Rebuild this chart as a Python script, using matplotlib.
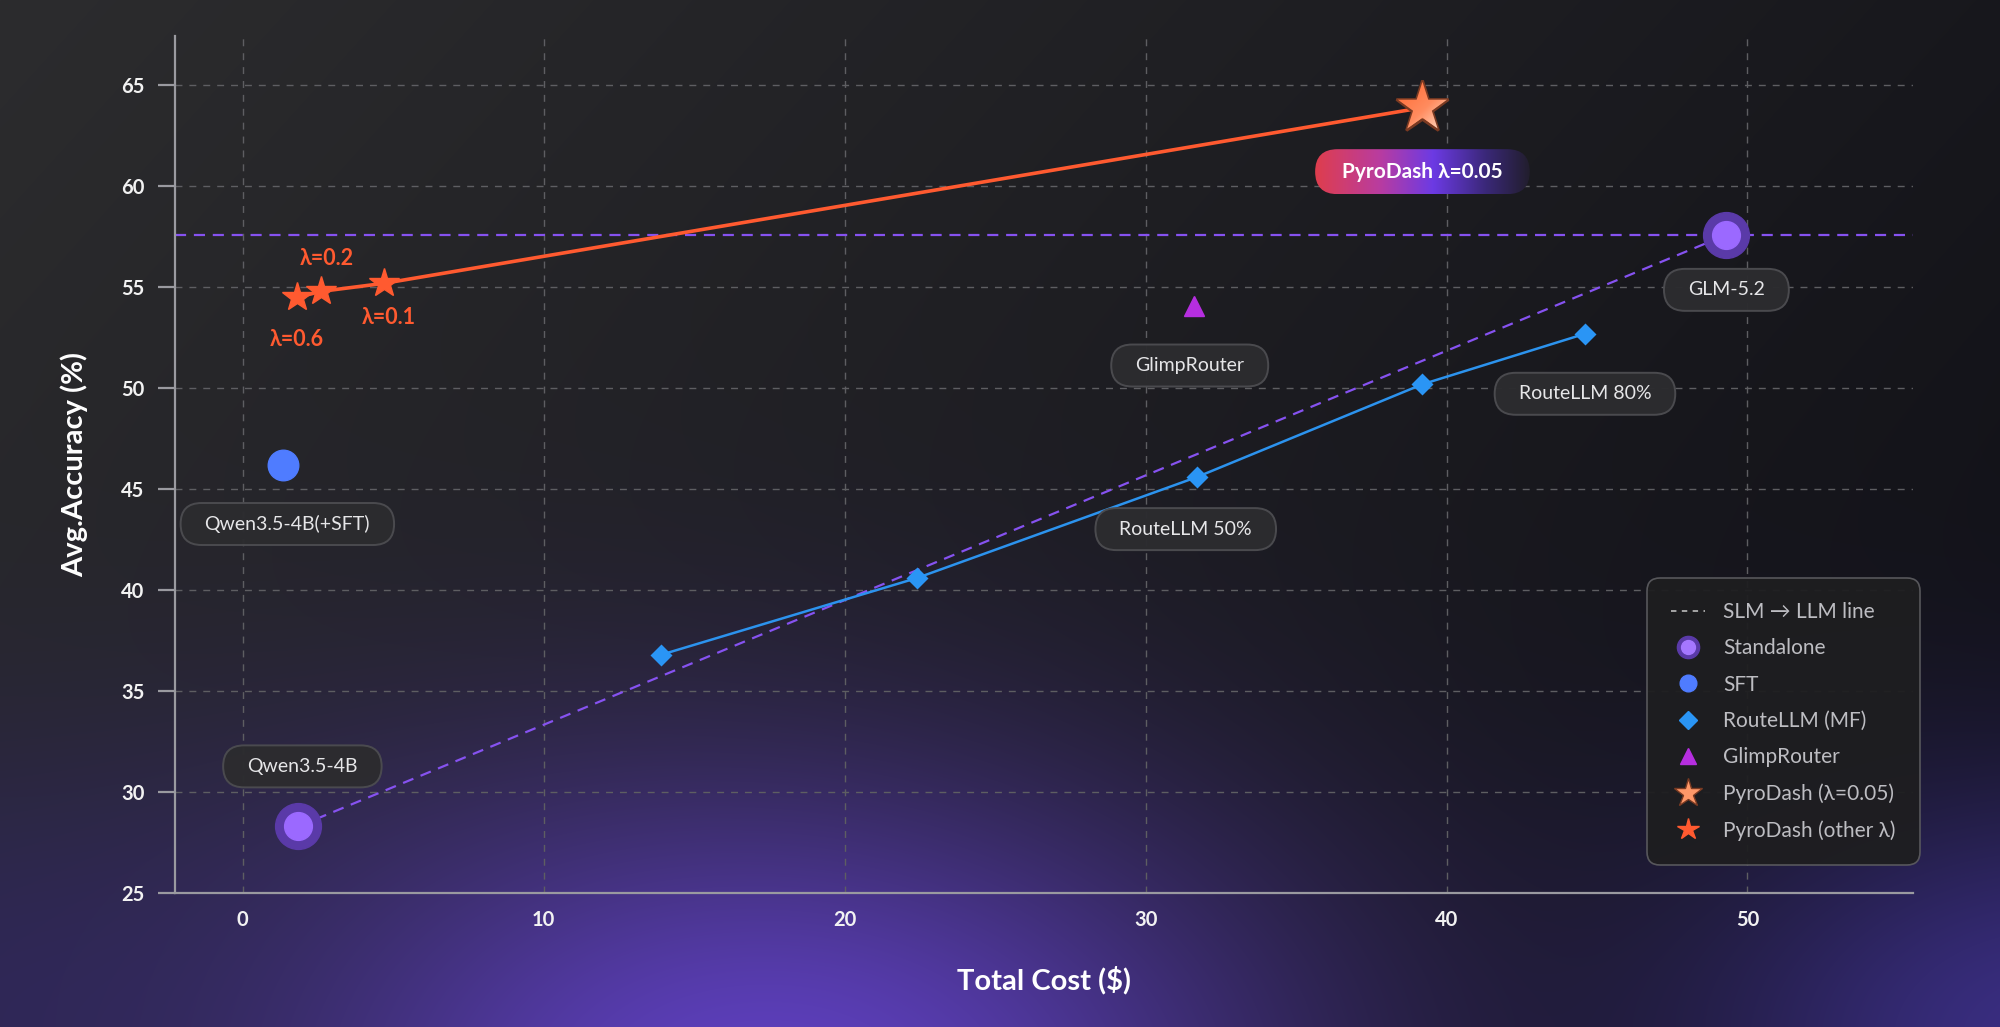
import numpy as np
import matplotlib
matplotlib.use('Agg')
import matplotlib.pyplot as plt
from matplotlib.patches import FancyBboxPatch, Circle, PathPatch
from matplotlib.lines import Line2D
from matplotlib.path import Path

plt.rcParams['font.family'] = ['Lato', 'DejaVu Sans']

# ---------------- data ----------------
slm_name, slm_cost, slm_acc = 'Qwen3.5-4B', 1.85, 28.3
llm_name, llm_cost, llm_acc = 'GLM-5.2', 49.3, 57.6
sft_name, sft_cost, sft_acc = 'Qwen3.5-4B(+SFT)', 1.35, 46.2
routellm_cost = [13.9, 22.4, 31.7, 39.2, 44.6]
routellm_acc = [36.8, 40.6, 45.6, 50.2, 52.7]
routellm_labels = {2: 'RouteLLM 50%', 4: 'RouteLLM 80%'}
glimp_name, glimp_cost, glimp_acc = 'GlimpRouter', 31.6, 54.1
pyro_main_name, pyro_main_cost, pyro_main_acc = 'PyroDash λ=0.05', 39.2, 63.9
pyro_lambdas = ['λ=0.6', 'λ=0.2', 'λ=0.1']
pyro_cost = [1.8, 2.6, 4.7]
pyro_acc = [54.5, 54.8, 55.2]
xticks = [0, 10, 20, 30, 40, 50]
yticks = [25, 30, 35, 40, 45, 50, 55, 60, 65]
xlabel = 'Total Cost ($)'
ylabel = 'Avg.Accuracy (%)'

W, H = 2000, 1027
DPI = 100
fig = plt.figure(figsize=(W / DPI, H / DPI), dpi=DPI)

# ---------------- background ----------------
ax_bg = fig.add_axes([0, 0, 1, 1], zorder=-10)
yy, xx = np.mgrid[0:H, 0:W].astype(float)
t = np.clip(0.75 * xx / W + 0.35 * yy / H, 0, 1)[..., None]
c_tl = np.array([44, 44, 46.0])
c_br = np.array([17, 17, 23.0])
img = c_tl * (1 - t) + c_br * t


def glow(img, cx, cy, rx, ry, col, a):
    g = np.exp(-(((xx - cx) / rx) ** 2 + ((yy - cy) / ry) ** 2))[..., None] * a
    return img * (1 - g) + np.array(col, float) * g


img = glow(img, 760, 1090, 560, 320, (98, 66, 200), 0.95)
img = glow(img, -60, 1010, 420, 260, (50, 40, 105), 0.6)
img = glow(img, 2060, 1040, 380, 260, (75, 58, 175), 0.7)
ax_bg.imshow(np.clip(img, 0, 255).astype(np.uint8), extent=[0, W, 0, H],
             origin='upper', aspect='auto', interpolation='bilinear')
ax_bg.set_axis_off()

# ---------------- main axes ----------------
ax = fig.add_axes([175 / W, (H - 893) / H, (1913 - 175) / W, (893 - 36) / H], zorder=1)
ax.set_facecolor('none')
ax.set_xlim(-2.25, 55.5)
ax.set_ylim(25, 67.45)
ax.set_xticks(xticks)
ax.set_yticks(yticks)
ax.grid(True, color='#5e5e62', linestyle=(0, (5, 5)), linewidth=1.0, zorder=0)
for s in ['top', 'right']:
    ax.spines[s].set_visible(False)
for s in ['left', 'bottom']:
    ax.spines[s].set_color('#9a9aa0')
    ax.spines[s].set_linewidth(1.6)
ax.tick_params(axis='y', length=12, width=1.6, color='#9a9aa0', pad=10,
               labelsize=14.5, labelcolor='#f2f2f2')
ax.tick_params(axis='x', length=0, pad=12, labelsize=14.5, labelcolor='#f2f2f2')
for lab in ax.get_xticklabels() + ax.get_yticklabels():
    lab.set_fontweight('bold')
ax.set_xlabel(xlabel, fontsize=21, fontweight='bold', color='#ffffff', labelpad=26)
ax.set_ylabel(ylabel, fontsize=21, fontweight='bold', color='#ffffff', labelpad=24)

purple = '#8652f0'
# SLM -> LLM reference lines
ax.plot([slm_cost, llm_cost], [slm_acc, llm_acc], color=purple, lw=1.6,
        linestyle=(0, (5, 3.5)), zorder=2)
ax.axhline(llm_acc, color=purple, lw=1.6, linestyle=(0, (5, 3.5)), zorder=2)

# RouteLLM
ax.plot(routellm_cost, routellm_acc, color='#2c93ee', lw=1.8, zorder=3,
        marker='D', markersize=11, markerfacecolor='#2a95f5', markeredgecolor='none')
# Glimp
ax.plot([glimp_cost], [glimp_acc], marker='^', markersize=15, color='#b62ee0',
        linestyle='none', zorder=4)
# SFT
ax.plot([sft_cost], [sft_acc], marker='o', markersize=22, color='#4f7cff',
        linestyle='none', zorder=4)
# Standalone
std_x = [slm_cost, llm_cost]
std_y = [slm_acc, llm_acc]
ax.plot(std_x, std_y, marker='o', markersize=33, color='#5a3aa8', linestyle='none', zorder=4)
ax.plot(std_x, std_y, marker='o', markersize=20, color='#9b69ff', linestyle='none', zorder=5)

# PyroDash
orange = '#ff5a30'
ax.plot(pyro_cost + [pyro_main_cost], pyro_acc + [pyro_main_acc], color=orange,
        lw=2.6, zorder=5)
ax.plot(pyro_cost, pyro_acc, marker='*', markersize=22, color=orange,
        linestyle='none', zorder=6)
ax.plot([pyro_main_cost], [pyro_main_acc], marker='*', markersize=40,
        markerfacecolor='#ff8a55', markeredgecolor='#7a3a22', markeredgewidth=2,
        linestyle='none', zorder=6)

# lambda labels
lam_off = {'λ=0.6': (0, -42), 'λ=0.2': (6, 33), 'λ=0.1': (5, -34)}
for lab, xc, yc in zip(pyro_lambdas, pyro_cost, pyro_acc):
    ox, oy = lam_off[lab]
    ax.annotate(lab, (xc, yc), xytext=(ox * 0.72, oy * 0.72), textcoords='offset points',
                ha='center', va='center', fontsize=15.5, fontweight='bold', color=orange,
                zorder=7)

# legend
leg_handles = [
    Line2D([], [], color='#b0b0b0', lw=1.3, linestyle=(0, (3, 3))),
    (Line2D([], [], marker='o', markersize=16, color='#5a3aa8', linestyle='none'),
     Line2D([], [], marker='o', markersize=10, color='#a577ff', linestyle='none')),
    Line2D([], [], marker='o', markersize=12, color='#4f7cff', linestyle='none'),
    Line2D([], [], marker='D', markersize=9, color='#2a95f5', linestyle='none'),
    Line2D([], [], marker='^', markersize=12, color='#b62ee0', linestyle='none'),
    Line2D([], [], marker='*', markersize=21, markerfacecolor='#ff9868',
           markeredgecolor='#7a3a22', markeredgewidth=1, linestyle='none'),
    Line2D([], [], marker='*', markersize=16, color=orange, linestyle='none'),
]
leg_labels = ['SLM → LLM line', 'Standalone', 'SFT', 'RouteLLM (MF)', 'GlimpRouter',
              'PyroDash (λ=0.05)', 'PyroDash (other λ)']
leg = ax.legend(leg_handles, leg_labels, loc='lower right', bbox_to_anchor=(1.004, 0.033),
                borderaxespad=0, fontsize=15, labelcolor='#bdbdc2', frameon=True,
                fancybox=True, facecolor='#1e1e20', edgecolor='#5a5a5e', framealpha=0.95,
                borderpad=1.15, labelspacing=0.78, handlelength=1.6, handletextpad=0.9)
leg.get_frame().set_linewidth(1.2)
leg.get_frame().set_boxstyle('round,pad=0,rounding_size=0.6')
leg.set_zorder(10)

# ---------------- overlay (pixel coords) ----------------
ax_o = fig.add_axes([0, 0, 1, 1], zorder=5)
ax_o.set_facecolor('none')
ax_o.set_axis_off()
ax_o.set_xlim(0, W)
ax_o.set_ylim(0, H)
ax_o.set_autoscale_on(False)


def px(x, y):
    return ax.transData.transform((x, y))


def grad_img(patch, stops, direction='diag', zorder=3):
    ext = patch.get_path().get_extents()
    x0, y0, x1, y1 = ext.x0, ext.y0, ext.x1, ext.y1
    n = 96
    u = np.linspace(0, 1, n)
    U, V = np.meshgrid(u, u)  # V=0 bottom
    if direction == 'diag':
        p = np.clip(0.5 * U + 0.5 * (1 - V), 0, 1)
    else:
        p = U
    pos = [s[0] for s in stops]
    cols = np.array([s[1] for s in stops], float)
    rgb = np.stack([np.interp(p, pos, cols[:, k]) for k in range(cols.shape[1])], -1)
    im = ax_o.imshow(np.clip(rgb / 255.0, 0, 1), extent=[x0, x1, y0, y1], origin='lower',
                     aspect='auto', interpolation='bilinear', zorder=zorder)
    im.set_clip_path(patch)
    return im


# gradient standalone inner circles
for xc, yc in zip(std_x, std_y):
    cx, cy = px(xc, yc)
    r = 0.5 * 20 * DPI / 72
    c = Circle((cx, cy), r, facecolor='none', edgecolor='none', transform=ax_o.transData)
    ax_o.add_patch(c)
    grad_img(c, [(0, (140, 85, 245)), (0.5, (160, 110, 255)), (1, (236, 222, 255))])

# gradient big star
cx, cy = px(pyro_main_cost, pyro_main_acc)
r = 0.5 * 40 * DPI / 72 * 0.93
star = Path.unit_regular_star(5, 0.381966)
verts = star.vertices * r + np.array([cx, cy])
sp = PathPatch(Path(verts, star.codes), facecolor='none', edgecolor='none',
               transform=ax_o.transData)
ax_o.add_patch(sp)
grad_img(sp, [(0, (255, 105, 50)), (0.55, (255, 140, 95)), (1, (255, 225, 205))])

renderer = fig.canvas.get_renderer()


def pill(xc, yc, text, off, padx=24, h=42, gradient=False, bold=False, fs=14):
    cx, cy = px(xc, yc)
    cx += off[0]
    cy += off[1]
    t = ax_o.text(cx, cy, text, ha='center', va='center', fontsize=fs,
                  color='#ffffff' if gradient else '#e6e6e8',
                  fontweight='bold' if bold else 'normal', zorder=8)
    bb = t.get_window_extent(renderer=renderer)
    w = bb.width + 2 * padx
    if gradient:
        p = FancyBboxPatch((cx - w / 2, cy - h / 2), w, h,
                           boxstyle=f'round,pad=0,rounding_size={h / 2}',
                           facecolor='none', edgecolor='none', zorder=6,
                           transform=ax_o.transData)
        ax_o.add_patch(p)
        grad_img(p, [(0, (222, 62, 78)), (0.3, (185, 60, 160)), (0.55, (108, 58, 228)),
                     (0.8, (58, 40, 120)), (1, (34, 30, 46))], direction='h', zorder=6)
    else:
        p = FancyBboxPatch((cx - w / 2, cy - h / 2), w, h,
                           boxstyle=f'round,pad=0,rounding_size={h / 2}',
                           facecolor='#2c2c2f', edgecolor='#4c4c50', linewidth=1.4,
                           alpha=0.97, zorder=6, transform=ax_o.transData)
        ax_o.add_patch(p)
    return t


pill(sft_cost, sft_acc, sft_name, (4, -59))
pill(slm_cost, slm_acc, slm_name, (4, 60))
pill(llm_cost, llm_acc, llm_name, (0, -55))
pill(glimp_cost, glimp_acc, glimp_name, (-4, -60))
pill(routellm_cost[4], routellm_acc[4], routellm_labels[4], (0, -60))
pill(routellm_cost[2], routellm_acc[2], routellm_labels[2], (-11, -52))
pill(pyro_main_cost, pyro_main_acc, pyro_main_name, (0, -64), padx=27, h=45,
     gradient=True, bold=True, fs=15)

fig.savefig('out.png', dpi=DPI)
